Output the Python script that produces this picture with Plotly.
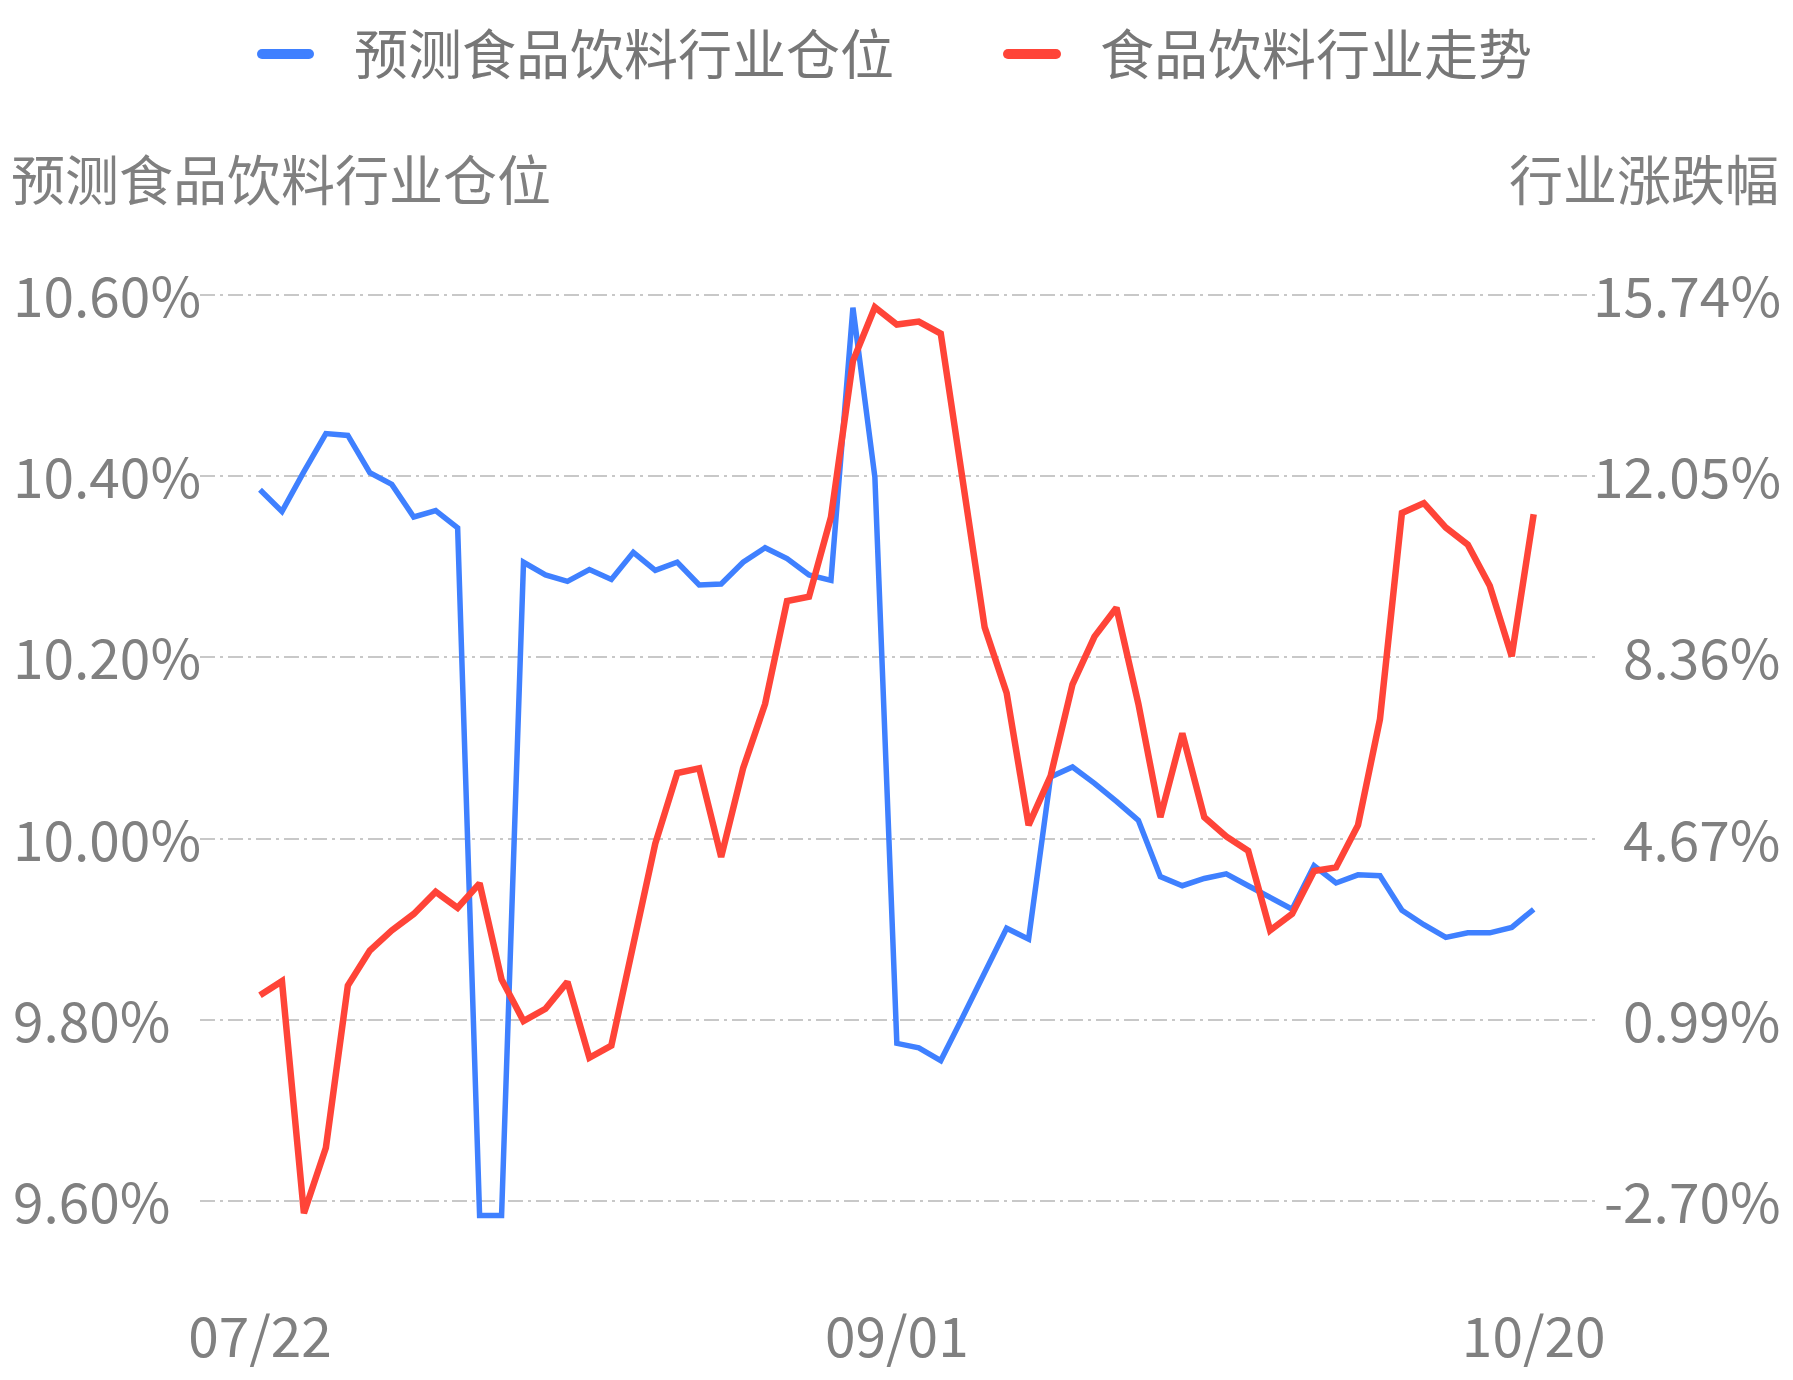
import numpy as np
import plotly.graph_objects as go

# ---------------- data ----------------
dates = ["07/22", "07/25", "07/26", "07/27", "07/28", "07/29",
         "08/01", "08/02", "08/03", "08/04", "08/05",
         "08/08", "08/09", "08/10", "08/11", "08/12",
         "08/15", "08/16", "08/17", "08/18", "08/19",
         "08/22", "08/23", "08/24", "08/25", "08/26",
         "08/29", "08/30", "08/31", "09/01", "09/02",
         "09/05", "09/06", "09/07", "09/08", "09/09",
         "09/13", "09/14", "09/15", "09/16",
         "09/19", "09/20", "09/21", "09/22", "09/23",
         "09/26", "09/27", "09/28", "09/29", "09/30",
         "10/10", "10/11", "10/12", "10/13", "10/14",
         "10/17", "10/18", "10/19", "10/20"]

position_pct = [10.385, 10.361, 10.405, 10.447, 10.445, 10.404, 10.391, 10.355, 10.362, 10.343,
                9.584, 9.584, 10.305, 10.291, 10.284, 10.297, 10.286, 10.316, 10.296, 10.305,
                10.280, 10.281, 10.305, 10.321, 10.309, 10.291, 10.285, 10.586, 10.399, 9.774,
                9.769, 9.755, 9.803, 9.852, 9.901, 9.889, 10.068, 10.079, 10.061, 10.041,
                10.020, 9.958, 9.948, 9.956, 9.961, 9.948, 9.935, 9.922, 9.970, 9.951,
                9.960, 9.959, 9.921, 9.905, 9.891, 9.896, 9.896, 9.902, 9.922]

trend_pct = [1.486, 1.773, -2.95, -1.616, 1.686, 2.396, 2.807, 3.143, 3.592, 3.268,
             3.766, 1.81, 0.963, 1.212, 1.76, 0.215, 0.464, 2.58, 4.576, 6.009,
             6.108, 4.302, 6.108, 7.417, 9.51, 9.598, 11.217, 14.394, 15.49, 15.14,
             15.20, 14.955, 11.965, 8.975, 7.641, 4.95, 5.947, 7.816, 8.788, 9.373,
             7.417, 5.112, 6.819, 5.112, 4.72, 4.427, 2.807, 3.143, 4.016, 4.09,
             4.95, 7.106, 11.304, 11.504, 11.006, 10.657, 9.822, 8.389, 11.28]

x_tick_labels = ["07/22", "09/01", "10/20"]
left_tick_vals = [9.60, 9.80, 10.00, 10.20, 10.40, 10.60]
left_tick_labels = ["9.60%", "9.80%", "10.00%", "10.20%", "10.40%", "10.60%"]
right_tick_labels = ["-2.70%", "0.99%", "4.67%", "8.36%", "12.05%", "15.74%"]
right_min, right_max = -2.70, 15.74

name_position = "预测食品饮料行业仓位"
name_trend = "食品饮料行业走势"
left_title = "预测食品饮料行业仓位"
right_title = "行业涨跌幅"

# ---------------- styling ----------------
OFF = 8                      # browser default body margin
PAGE_W, PAGE_H = 1793, 1380
W, H = PAGE_W - 2 * OFF, PAGE_H - 2 * OFF

# plot area in page pixels
PX_L, PX_R = 200, 1597
GRID_TOP, GRID_BOT = 295, 1201
PAD_TOP, PAD_BOT = 6, 30
PX_T, PX_B = GRID_TOP - PAD_TOP, GRID_BOT + PAD_BOT

ML = PX_L - OFF
MR = W - (PX_R - OFF)
MT = PX_T - OFF
MB = H - (PX_B - OFF)
PW = PX_R - PX_L
PH = PX_B - PX_T
grid_h = GRID_BOT - GRID_TOP

BLUE = "#3f80ff"
RED = "#ff4438"
GRAY = "#808080"
FONT = "Noto Sans CJK SC, Noto Sans, sans-serif"
TICK_SIZE = 55

x_idx = list(range(len(dates)))
px_per_pt = 21.96
x0 = -(260 - PX_L) / px_per_pt
x1 = x0 + PW / px_per_pt

left_min, left_max = left_tick_vals[0], left_tick_vals[-1]
lspan = left_max - left_min
rspan = right_max - right_min
left_range = [left_min - lspan * PAD_BOT / grid_h, left_max + lspan * PAD_TOP / grid_h]
right_range = [right_min - rspan * PAD_BOT / grid_h, right_max + rspan * PAD_TOP / grid_h]
right_tick_vals = list(np.linspace(right_min, right_max, len(right_tick_labels)))

fig = go.Figure()
fig.add_trace(go.Scatter(x=x_idx, y=position_pct, name=name_position, mode="lines",
                         line=dict(color=BLUE, width=5.5), yaxis="y", showlegend=False))
fig.add_trace(go.Scatter(x=x_idx, y=trend_pct, name=name_trend, mode="lines",
                         line=dict(color=RED, width=6.5), yaxis="y2", showlegend=False))

tick_idx = [dates.index(d) for d in x_tick_labels]

fig.update_layout(
    width=W, height=H,
    margin=dict(l=ML, r=MR, t=MT, b=MB, autoexpand=False),
    paper_bgcolor="white", plot_bgcolor="white",
    font=dict(family=FONT, color=GRAY, size=54),
    xaxis=dict(range=[x0, x1], tickvals=tick_idx, ticktext=x_tick_labels,
               showgrid=False, zeroline=False, showline=False, ticks="",
               tickfont=dict(size=TICK_SIZE, color=GRAY, family=FONT),
               ticklabelstandoff=70),
    yaxis=dict(range=left_range, tickvals=left_tick_vals, showticklabels=False,
               showgrid=True, gridcolor="#c8c8c8", gridwidth=1.5,
               griddash="15px,5px,3px,5px",
               zeroline=False, showline=False, ticks=""),
    yaxis2=dict(range=right_range, tickvals=right_tick_vals, showticklabels=False,
                overlaying="y", side="right", showgrid=False, zeroline=False,
                showline=False, ticks=""),
)


def px_x(px):
    return (px - PX_L) / PW


def px_y(py):
    return (PX_B - py) / PH


# y-axis tick labels: left ones left-aligned, right ones right-aligned
for v, lab in zip(left_tick_vals, left_tick_labels):
    fig.add_annotation(text=lab, xref="paper", yref="y", x=px_x(11), y=v, yshift=2,
                       xanchor="left", yanchor="middle", showarrow=False,
                       font=dict(size=TICK_SIZE, color=GRAY, family=FONT))
for v, lab in zip(right_tick_vals, right_tick_labels):
    fig.add_annotation(text=lab, xref="paper", yref="y2", x=px_x(1783), y=v, yshift=2,
                       xanchor="right", yanchor="middle", showarrow=False,
                       font=dict(size=TICK_SIZE, color=GRAY, family=FONT))

# axis titles
fig.add_annotation(text=left_title, xref="paper", yref="paper", x=px_x(9), y=px_y(177),
                   xanchor="left", yanchor="middle", showarrow=False,
                   font=dict(size=54, color=GRAY, family=FONT))
fig.add_annotation(text=right_title, xref="paper", yref="paper", x=px_x(1781), y=px_y(177),
                   xanchor="right", yanchor="middle", showarrow=False,
                   font=dict(size=54, color=GRAY, family=FONT))

# legend (top)
legend_items = [(name_position, BLUE, 257, 314, 352), (name_trend, RED, 1003, 1061, 1098)]
for label, color, sx0, sx1, tx in legend_items:
    fig.add_shape(type="line", xref="paper", yref="paper",
                  x0=px_x(sx0 + 5), x1=px_x(sx1 - 5), y0=px_y(54), y1=px_y(54),
                  line=dict(color=color, width=10))
    fig.add_shape(type="circle", xref="paper", yref="paper",
                  x0=px_x(sx0), x1=px_x(sx0 + 10), y0=px_y(59), y1=px_y(49),
                  fillcolor=color, line=dict(width=0))
    fig.add_shape(type="circle", xref="paper", yref="paper",
                  x0=px_x(sx1 - 10), x1=px_x(sx1), y0=px_y(59), y1=px_y(49),
                  fillcolor=color, line=dict(width=0))
    fig.add_annotation(text=label, xref="paper", yref="paper", x=px_x(tx), y=px_y(52),
                       xanchor="left", yanchor="middle", showarrow=False,
                       font=dict(size=54, color="#777777", family=FONT))

fig.write_html("out.html")
